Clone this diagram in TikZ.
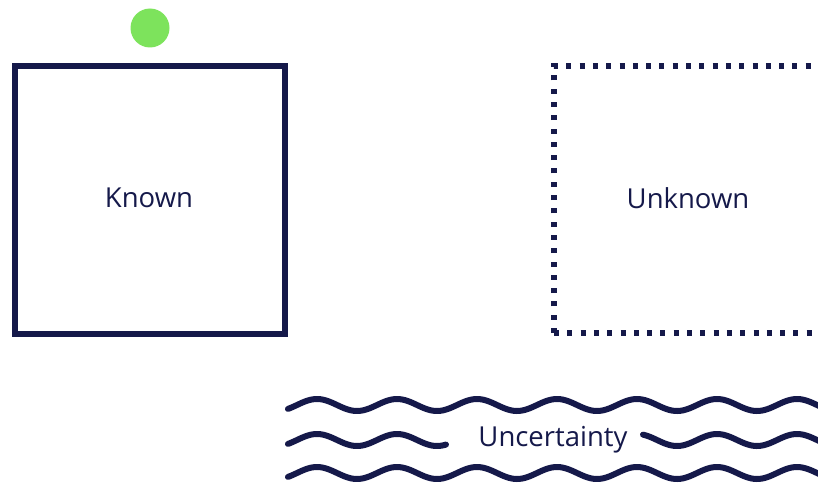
\documentclass[tikz,border=0pt]{standalone}
\usepackage{fontspec}
\setmainfont{Open Sans}
\definecolor{navy}{HTML}{15194A}
\definecolor{leaf}{HTML}{7DE35C}
\begin{document}
\begin{tikzpicture}[x=1pt,y=-1pt,
  lbl/.style={text=navy,font=\fontsize{27.5}{32}\selectfont,inner sep=2pt},
  wave/.style={draw=navy,line width=6pt,line cap=round},
  dotbox/.style={draw=navy,line width=5.5pt,dash pattern=on 5pt off 8.3pt}]
\useasboundingbox (0,0) rectangle (818,487);
\clip (0,0) rectangle (818,487);
\fill[leaf] (150,28) circle (19.5) node (dot) {};
\draw[navy,line width=6pt] (15,66) rectangle (285,334);
\node[lbl] (known) at (149,198) {Known};
\draw[dotbox] (554,333) -- (554,66) -- (822,66);
\draw[dotbox] (554,333) -- (822,333);
\node[lbl] (unknown) at (688,198) {Unknown};
\draw[wave] plot[domain=288:830,samples=200,smooth] (\x,{405+6*sin((\x-337)*4.5)});
\draw[wave] plot[domain=288:446,samples=80,smooth] (\x,{440+6*sin((\x-337)*4.5)});
\draw[wave] plot[domain=643:830,samples=80,smooth] (\x,{440+6*sin((\x-337)*4.5)});
\draw[wave] plot[domain=288:830,samples=200,smooth] (\x,{473+6*sin((\x-337)*4.5)});
\node[lbl] (unc) at (553,440) {Uncertainty};
\end{tikzpicture}
\end{document}
